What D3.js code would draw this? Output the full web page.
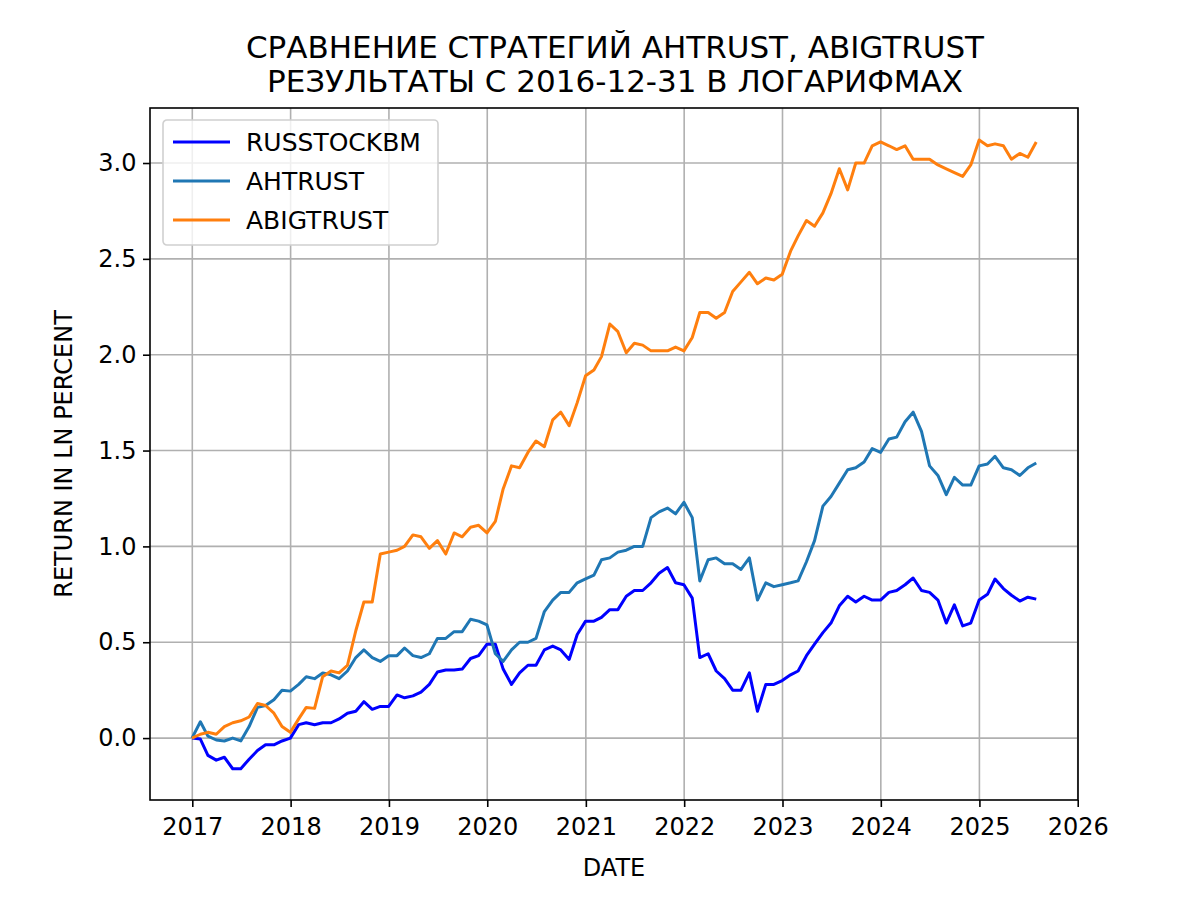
<!DOCTYPE html>
<html><head><meta charset="utf-8">
<script src="https://cdn.jsdelivr.net/npm/d3@7"></script>
<style>body{margin:0;background:#fff}svg{font-family:"DejaVu Sans",sans-serif}</style>
</head><body><div id="chart"></div>
<script>
// monthly values, starting 2016-12-31
const russtockbm = [0,-0.005,-0.09,-0.115,-0.1,-0.16,-0.16,-0.11,-0.065,-0.035,-0.035,-0.015,0.0,
  0.07,0.08,0.07,0.08,0.08,0.1,0.13,0.14,0.19,0.15,0.165,0.165,
  0.225,0.21,0.22,0.24,0.28,0.345,0.355,0.355,0.36,0.415,0.43,0.49,
  0.49,0.36,0.28,0.34,0.38,0.38,0.46,0.48,0.46,0.41,0.54,0.61,
  0.61,0.63,0.67,0.67,0.74,0.77,0.77,0.81,0.86,0.89,0.81,0.8,
  0.73,0.42,0.44,0.35,0.31,0.25,0.25,0.34,0.14,0.28,0.28,0.3,
  0.33,0.35,0.43,0.49,0.55,0.6,0.69,0.74,0.71,0.74,0.72,0.72,
  0.76,0.77,0.8,0.835,0.77,0.76,0.72,0.6,0.695,0.585,0.6,0.72,
  0.75,0.83,0.78,0.745,0.715,0.735,0.725];
const ahtrust = [0,0.085,0.01,-0.01,-0.015,0.0,-0.015,0.06,0.16,0.17,0.2,0.25,0.245,
  0.28,0.32,0.31,0.34,0.33,0.31,0.35,0.42,0.46,0.42,0.4,0.43,
  0.43,0.47,0.43,0.42,0.44,0.52,0.52,0.555,0.555,0.62,0.61,0.59,
  0.44,0.4,0.46,0.5,0.5,0.52,0.66,0.72,0.76,0.76,0.81,0.83,
  0.85,0.93,0.94,0.97,0.98,1.0,1.0,1.15,1.18,1.2,1.17,1.23,
  1.15,0.82,0.93,0.94,0.91,0.91,0.88,0.94,0.72,0.81,0.79,0.8,
  0.81,0.82,0.92,1.03,1.21,1.26,1.33,1.4,1.41,1.44,1.51,1.49,
  1.56,1.57,1.65,1.7,1.6,1.42,1.37,1.27,1.36,1.32,1.32,1.42,
  1.43,1.47,1.41,1.4,1.37,1.41,1.435];
const abigtrust = [0,0.02,0.03,0.02,0.06,0.08,0.09,0.11,0.18,0.17,0.13,0.06,0.03,
  0.1,0.16,0.155,0.32,0.35,0.34,0.38,0.56,0.71,0.71,0.96,0.97,
  0.98,1.0,1.06,1.05,0.99,1.03,0.96,1.07,1.05,1.1,1.11,1.07,
  1.13,1.3,1.42,1.41,1.49,1.55,1.52,1.66,1.7,1.63,1.75,1.89,
  1.92,1.99,2.16,2.12,2.01,2.06,2.05,2.02,2.02,2.02,2.04,2.02,
  2.09,2.22,2.22,2.19,2.22,2.33,2.38,2.43,2.37,2.4,2.39,2.42,
  2.54,2.62,2.7,2.67,2.74,2.84,2.97,2.86,3.0,3.0,3.09,3.11,
  3.09,3.07,3.09,3.02,3.02,3.02,2.99,2.97,2.95,2.93,2.99,3.12,
  3.09,3.1,3.09,3.02,3.05,3.03,3.11];
const seriesNames = ["RUSSTOCKBM","AHTRUST","ABIGTRUST"];
const seriesColors = ["#0000ff","#1f77b4","#ff7f0e"];
const yTicks = [0,0.5,1,1.5,2,2.5,3];
const xTickYears = [2017,2018,2019,2020,2021,2022,2023,2024,2025,2026];

const dates = russtockbm.map((_, i) => new Date(2017, i, 0)); // last day of previous month

const W = 1200, H = 900, m = {top:108, right:122, bottom:100, left:150};
const svg = d3.select("#chart").append("svg").attr("width", W).attr("height", H);

const x = d3.scaleTime().domain([new Date(2016,6,28), new Date(2026,0,2)]).range([m.left, W - m.right]);
const y = d3.scaleLinear().domain([-0.323, 3.287]).range([H - m.bottom, m.top]);

// grid
svg.append("g").selectAll("line").data(xTickYears).join("line")
  .attr("x1", d => x(new Date(d,0,1))).attr("x2", d => x(new Date(d,0,1)))
  .attr("y1", m.top).attr("y2", H - m.bottom).attr("stroke", "#b0b0b0").attr("stroke-width", 1.6);
svg.append("g").selectAll("line").data(yTicks).join("line")
  .attr("x1", m.left).attr("x2", W - m.right)
  .attr("y1", d => y(d)).attr("y2", d => y(d)).attr("stroke", "#b0b0b0").attr("stroke-width", 1.6);

// axes
const xAxis = svg.append("g").attr("transform", `translate(0,${H - m.bottom})`)
  .call(d3.axisBottom(x).tickValues(xTickYears.map(d => new Date(d,0,1))).tickFormat(d3.timeFormat("%Y")).tickSizeOuter(0).tickSize(7));
const yAxis = svg.append("g").attr("transform", `translate(${m.left},0)`)
  .call(d3.axisLeft(y).tickValues(yTicks).tickFormat(d3.format(".1f")).tickSizeOuter(0).tickSize(7));
[xAxis, yAxis].forEach(a => {
  a.select(".domain").remove();
  a.selectAll("text").attr("font-size", 24).attr("fill", "#000").attr("font-family", "DejaVu Sans");
  a.selectAll("line").attr("stroke", "#000").attr("stroke-width", 1.6);
});
xAxis.selectAll("text").attr("dy", "1.05em");
yAxis.selectAll("text").attr("dx", "-0.15em");

// lines
const line = d3.line().x((d, i) => x(dates[i])).y(d => y(d));
[russtockbm, ahtrust, abigtrust].forEach((s, k) => {
  svg.append("path").datum(s).attr("d", line).attr("fill", "none")
    .attr("stroke", seriesColors[k]).attr("stroke-width", 3).attr("stroke-linejoin", "round");
});

// frame
svg.append("rect").attr("x", m.left).attr("y", m.top).attr("width", W - m.left - m.right)
  .attr("height", H - m.top - m.bottom).attr("fill", "none").attr("stroke", "#000").attr("stroke-width", 1.6);

// legend
const lg = svg.append("g").attr("transform", "translate(163,120)");
lg.append("rect").attr("width", 275).attr("height", 125).attr("rx", 4)
  .attr("fill", "#fff").attr("fill-opacity", 0.8).attr("stroke", "#d0d0d0").attr("stroke-width", 1.6);
seriesNames.forEach((n, k) => {
  const yy = 22 + k * 39;
  lg.append("line").attr("x1", 10).attr("x2", 67).attr("y1", yy).attr("y2", yy)
    .attr("stroke", seriesColors[k]).attr("stroke-width", 3);
  lg.append("text").attr("x", 83).attr("y", yy + 9).attr("font-size", 25).text(n);
});

// titles
svg.append("text").attr("x", 615).attr("y", 58).attr("text-anchor", "middle").attr("font-size", 31)
  .text("СРАВНЕНИЕ СТРАТЕГИЙ AHTRUST, ABIGTRUST");
svg.append("text").attr("x", 615).attr("y", 92).attr("text-anchor", "middle").attr("font-size", 31)
  .text("РЕЗУЛЬТАТЫ С 2016-12-31 В ЛОГАРИФМАХ");
svg.append("text").attr("x", 614).attr("y", 876).attr("text-anchor", "middle").attr("font-size", 24).text("DATE");
svg.append("text").attr("transform", "translate(72,454) rotate(-90)").attr("text-anchor", "middle")
  .attr("font-size", 24).text("RETURN IN LN PERCENT");
</script></body></html>
